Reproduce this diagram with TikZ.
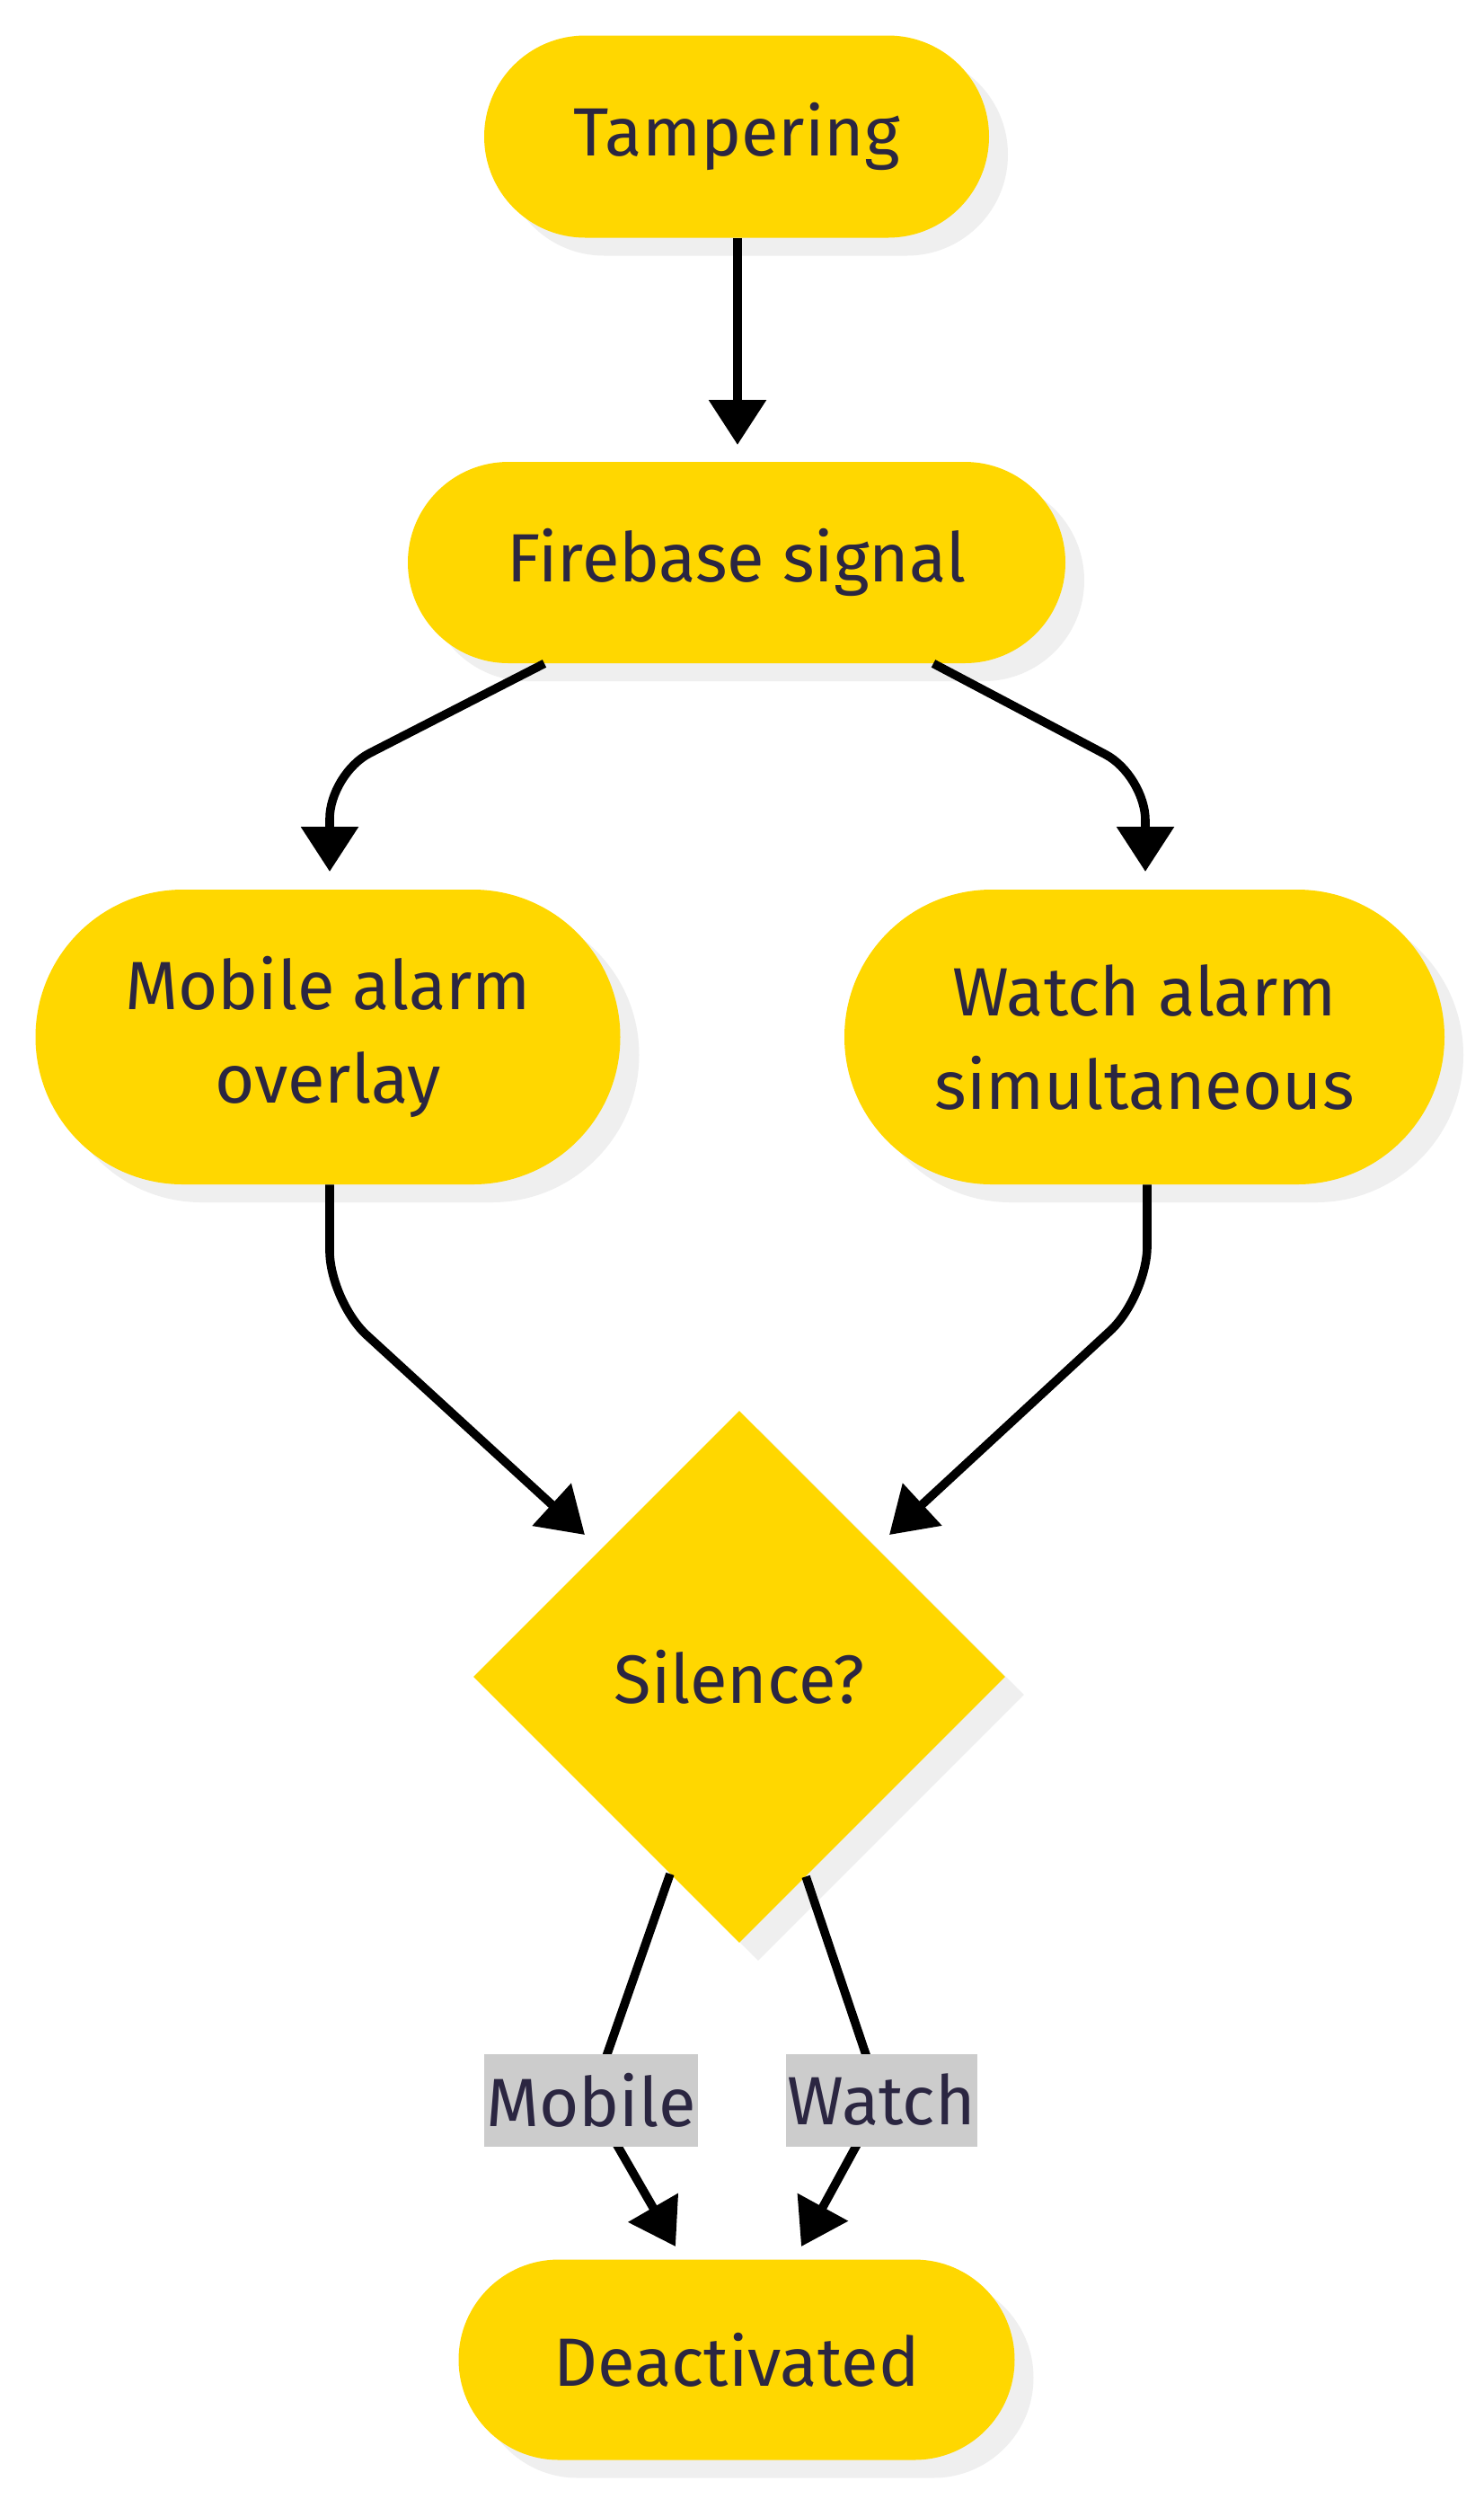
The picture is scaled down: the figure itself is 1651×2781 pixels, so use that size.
\documentclass[tikz,border=0pt]{standalone}
\usepackage{fontspec}
\setmainfont{Fira Sans}
\usetikzlibrary{arrows.meta,shapes.geometric,shapes.misc,shadows,calc}
\definecolor{nodefill}{HTML}{FFD700}
\definecolor{shadowgray}{HTML}{EFEFEF}
\definecolor{txt}{HTML}{2B2641}
\definecolor{lblgray}{HTML}{CCCCCC}
\begin{document}
\begin{tikzpicture}[x=0.5pt,y=-0.5pt,
  font=\fontsize{38pt}{52pt}\selectfont,
  shad/.style={general shadow={fill=shadowgray,shadow xshift=10.5pt,shadow yshift=-10pt}},
  stad/.style={rounded rectangle,fill=nodefill,text=txt,inner sep=0pt,shad,align=center},
  dia/.style={diamond,fill=nodefill,text=txt,inner sep=0pt,aspect=1,shad},
  conn/.style={draw=black,line width=4.8pt,-{Triangle[length=25pt,width=31pt]}},
  lbl/.style={fill=lblgray,text=txt,inner xsep=1pt,inner ysep=0pt,minimum height=51.5pt}]
\useasboundingbox (0,0) rectangle (1651,2781);
\fill[white] (0,0) rectangle (1651,2781);

\node[stad,minimum width=281pt,minimum height=112.5pt] (tamp) at (820,152) {\raisebox{-2pt}{Tampering}};
\node[stad,minimum width=366pt,minimum height=112pt] (fb) at (820,626) {\raisebox{-2pt}{Firebase signal}};
\node[stad,minimum width=325.5pt,minimum height=164pt] (mob) at (365,1154) {Mobile alarm\\overlay};
\node[stad,minimum width=334pt,minimum height=164pt] (wat) at (1274,1154) {Watch alarm\\simultaneous};
\node[dia,minimum width=296pt,minimum height=296pt] (sil) at (823,1866) {Silence?};
\node[stad,minimum width=309.5pt,minimum height=111.5pt] (deac) at (820,2626) {Deactivated};

\coordinate (t1) at (821,495);
\coordinate (c2) at (367,861);
\coordinate (t2) at (367,970);
\coordinate (c3) at (1275,863);
\coordinate (t3) at (1275,970);
\coordinate (c4) at (367,1448);
\coordinate (t4) at (651,1708);
\coordinate (c5) at (1277,1443);
\coordinate (t5) at (990,1708);
\coordinate (cm) at (658,2337);
\coordinate (cw) at (981,2337);
\coordinate (t6) at (752,2500);
\coordinate (t7) at (892,2500);

\draw[conn] ([xshift=0.5pt]tamp.south) -- (t1);
\draw[conn,rounded corners=25pt] ([xshift=-107pt]fb.south) -- (c2) -- (t2);
\draw[conn,rounded corners=25pt] ([xshift=109.5pt]fb.south) -- (c3) -- (t3);
\draw[conn,rounded corners=28pt] ([xshift=1pt]mob.south) -- (c4) -- (t4);
\draw[conn,rounded corners=28pt] ([xshift=1.5pt]wat.south) -- (c5) -- (t5);
\draw[conn] ($(sil.south)!0.26!(sil.west)$) -- (cm) -- (t6);
\draw[conn] ($(sil.south)!0.25!(sil.east)$) -- (cw) -- (t7);
\node[lbl] (lm) at (cm) {Mobile};
\node[lbl] (lw) at (cw) {Watch};
\end{tikzpicture}
\end{document}
